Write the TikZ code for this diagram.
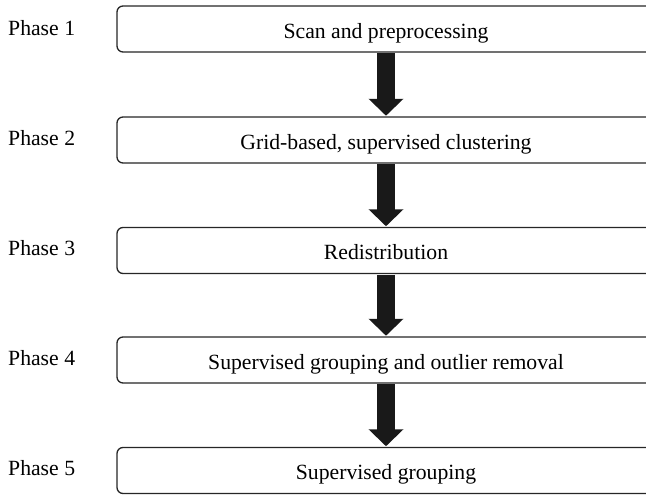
\documentclass[tikz,border=0pt]{standalone}
\usepackage{fontspec}
\setmainfont{Liberation Serif}
\usetikzlibrary{arrows.meta}
\tikzset{
  phasebox/.style={draw=black!85, line width=1.3pt, rounded corners=6pt, minimum width=538pt, minimum height=46pt, inner sep=0pt, fill=white, text height=18pt, text depth=0pt},
  phaselabel/.style={anchor=west, inner sep=0pt},
  bigarrow/.style={draw=black!90, line width=18pt, -{Triangle[width=34pt,length=17pt]}},
}
\begin{document}
\begin{tikzpicture}[x=1pt,y=1pt,font=\fontsize{21.7}{26}\selectfont]
\useasboundingbox (0,0) rectangle (646,-496);
\clip (0,0) rectangle (646,-496);
\node[phasebox] (b1) at (386,-29) {Scan and preprocessing};
\node[phasebox] (b2) at (386,-140) {Grid-based, supervised clustering};
\node[phasebox] (b3) at (386,-250.5) {Redistribution};
\node[phasebox] (b4) at (386,-360) {Supervised grouping and outlier removal};
\node[phasebox] (b5) at (386,-470.5) {Supervised grouping};
\node[phaselabel] (p1) at (8,-28) {Phase 1};
\node[phaselabel] (p2) at (8,-138) {Phase 2};
\node[phaselabel] (p3) at (8,-248) {Phase 3};
\node[phaselabel] (p4) at (8,-358) {Phase 4};
\node[phaselabel] (p5) at (8,-468) {Phase 5};
\foreach \a/\b in {b1/b2,b2/b3,b3/b4,b4/b5}{
  \draw[bigarrow] ([yshift=-0.6pt]\a.south) -- ([yshift=0.6pt]\b.north);
}
\end{tikzpicture}
\end{document}
